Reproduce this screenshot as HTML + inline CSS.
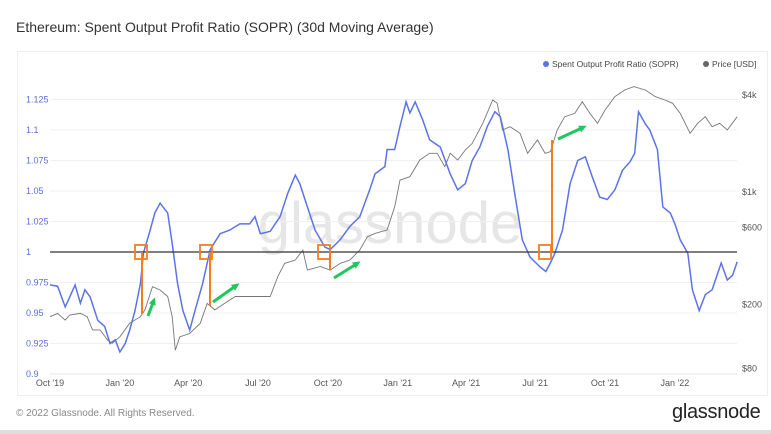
<!DOCTYPE html>
<html><head><meta charset="utf-8">
<style>
html,body{margin:0;padding:0;background:#fff;}
body{width:771px;height:434px;position:relative;overflow:hidden;font-family:"Liberation Sans",sans-serif;}
.t{position:absolute;white-space:nowrap;}
</style></head>
<body>
<div class="t" style="left:16px;top:19px;font-size:14px;color:#333;">Ethereum: Spent Output Profit Ratio (SOPR) (30d Moving Average)</div>
<div style="position:absolute;left:17px;top:51px;width:749px;height:343px;border:1px solid #eee;"></div>
<div class="t" style="left:16px;top:408px;font-size:10px;color:#888;">© 2022 Glassnode. All Rights Reserved.</div>
<div class="t" style="left:672px;top:401px;font-size:20px;color:#222;letter-spacing:-0.3px;">glassnode</div>
<div style="position:absolute;left:0;top:430px;width:771px;height:4px;background:#ddd;"></div>
<svg id="chart" width="771" height="434" style="position:absolute;left:0;top:0" xmlns="http://www.w3.org/2000/svg"></svg>
<script>
const soprDays=[0,10,20,26,33,40,46,53,63,72,79,86,92,99,105,112,119,123,132,138,145,155,161,168,175,184,191,201,211,224,237,250,263,270,277,290,303,313,323,329,339,349,362,369,382,395,408,421,428,441,444,454,461,469,474,481,491,500,514,527,537,547,556,566,576,586,593,603,612,622,632,645,653,659,665,675,685,695,705,714,724,734,744,754,764,770,775,784,790,800,807,817,823,830,840,846,855,863,872,884,892,899,905];
const soprValues=[0.973,0.972,0.955,0.963,0.973,0.958,0.969,0.963,0.944,0.939,0.925,0.928,0.918,0.925,0.936,0.952,0.974,0.999,1.018,1.032,1.040,1.032,1.007,0.974,0.952,0.936,0.952,0.974,1.002,1.015,1.018,1.023,1.023,1.029,1.015,1.017,1.029,1.048,1.063,1.056,1.037,1.018,1.004,1.002,1.010,1.021,1.029,1.051,1.064,1.070,1.084,1.084,1.103,1.123,1.114,1.123,1.108,1.092,1.086,1.064,1.051,1.056,1.075,1.086,1.103,1.115,1.111,1.084,1.048,1.010,0.996,0.988,0.984,0.991,0.999,1.018,1.056,1.075,1.078,1.062,1.045,1.043,1.051,1.067,1.074,1.081,1.115,1.105,1.100,1.084,1.037,1.032,1.023,1.010,0.999,0.969,0.952,0.965,0.969,0.991,0.977,0.981,0.992];
const priceDays=[0,10,20,26,40,49,56,66,76,82,92,105,119,125,135,145,155,161,165,171,184,198,207,217,230,244,257,277,290,300,309,323,333,339,356,369,382,395,408,418,428,444,454,461,474,487,500,510,520,527,537,547,556,570,583,589,596,606,619,629,642,652,659,668,678,691,701,711,721,731,744,757,769,784,797,810,820,830,843,853,863,872,882,892,905];
const priceValues=[168,176,160,172,176,168,139,139,120,115,126,153,168,185,258,246,224,168,104,126,132,153,203,185,203,224,224,224,224,298,360,378,436,327,344,327,360,378,436,527,553,580,810,1185,1244,1578,1738,1738,1435,1738,1578,1821,2003,2668,3724,3550,2425,2543,2312,1738,2103,1738,1778,2425,2933,3076,3637,3076,2668,3225,3908,4296,4508,4296,3908,3724,3550,3076,2312,2668,2933,2543,2668,2425,2933];
const leftTicks=[1.125,1.1,1.075,1.05,1.025,1,0.975,0.95,0.925,0.9];
const leftTickLabels=["1.125","1.1","1.075","1.05","1.025","1","0.975","0.95","0.925","0.9"];
const rightTicks=[4000,1000,600,200,80];
const rightTickLabels=["$4k","$1k","$600","$200","$80"];
const xTickDays=[0,92,182,274,366,458,548,639,731,823];
const xTickLabels=["Oct '19","Jan '20","Apr '20","Jul '20","Oct '20","Jan '21","Apr '21","Jul '21","Oct '21","Jan '22"];

const svg=document.getElementById('chart');
const NS='http://www.w3.org/2000/svg';
const X0=50,X1=737,Y0=99.5,Y1=374;
const xs=d=>X0+d*0.7593;
const yL=v=>252-(v-1)*1220;
const yR=p=>95+(Math.log10(4000)-Math.log10(p))*161;
function mk(tag,attrs){const e=document.createElementNS(NS,tag);for(const k in attrs)e.setAttribute(k,attrs[k]);svg.appendChild(e);return e;}

// watermark
let wm=mk('text',{x:390,y:243,'font-size':58,'text-anchor':'middle',fill:'#e6e6e6','font-family':'Liberation Sans, sans-serif'});


wm.textContent='glassnode';

leftTicks.forEach((v,i)=>{
  const g=mk('line',{x1:X0,x2:X1,y1:yL(v),y2:yL(v),stroke:'#f0f0f0','stroke-width':1});
  
  
  const t=mk('text',{x:26,y:yL(v)+3,'font-size':9,fill:'#5b6fd6','font-family':'Liberation Sans, sans-serif'});
  
  
  t.textContent=leftTickLabels[i];
});
rightTicks.forEach((p,i)=>{
  const t=mk('text',{x:742,y:yR(p)+3,'font-size':9,fill:'#555','font-family':'Liberation Sans, sans-serif'});
  
  
  t.textContent=rightTickLabels[i];
});
xTickDays.forEach((d,i)=>{
  const t=mk('text',{x:xs(d),y:386,'font-size':9,fill:'#555','text-anchor':'middle','font-family':'Liberation Sans, sans-serif'});
  
  
  t.textContent=xTickLabels[i];
});
let ax=mk('line',{x1:X0,x2:X1,y1:Y1,y2:Y1,stroke:'#e6e6e6'});



let pp=mk('polyline',{points:priceDays.map((d,i)=>xs(d).toFixed(1)+','+yR(priceValues[i]).toFixed(1)).join(' '),fill:'none',stroke:'#777','stroke-width':0.9});


let sp=mk('polyline',{points:soprDays.map((d,i)=>xs(d).toFixed(1)+','+yL(soprValues[i]).toFixed(1)).join(' '),fill:'none',stroke:'#5b73e8','stroke-width':1.5});



let bl=mk('line',{x1:X0,x2:X1,y1:yL(1),y2:yL(1),stroke:'#333','stroke-width':1.2});



// annotations
[[142,252,314],[210,252,306],[330,252,270],[552,252,140]].forEach(a=>{
  const l=mk('line',{x1:a[0],x2:a[0],y1:a[1],y2:a[2],stroke:'#f57c20','stroke-width':2});
  
  
});
[[141,252],[206,252],[324,252],[545,252]].forEach(a=>{
  const r=mk('rect',{x:a[0]-6,y:a[1]-7,width:12,height:14,fill:'none',stroke:'#f57c20','stroke-width':1.8});
  
  
});
[[148,316,154,300],[213,302,237,285],[334,278,358,263],[558,139,584,127]].forEach(a=>{
  const l=mk('line',{x1:a[0],y1:a[1],x2:a[2],y2:a[3],stroke:'#22c55e','stroke-width':3});
  
  
  const ang=Math.atan2(a[3]-a[1],a[2]-a[0]);
  const s=6,x=a[2],y=a[3];
  const pts=[[x+Math.cos(ang)*3,y+Math.sin(ang)*3],[x+Math.cos(ang+2.5)*s,y+Math.sin(ang+2.5)*s],[x+Math.cos(ang-2.5)*s,y+Math.sin(ang-2.5)*s]];
  const h=mk('polygon',{points:pts.map(p=>p.join(',')).join(' '),fill:'#22c55e'});
  
  
});

// legend
let d1=mk('circle',{cx:546,cy:64,r:3,fill:'#5b73e8'});


let t1=mk('text',{x:552,y:67,'font-size':8.5,fill:'#444','font-family':'Liberation Sans, sans-serif'});


t1.textContent='Spent Output Profit Ratio (SOPR)';
let d2=mk('circle',{cx:706,cy:64,r:3,fill:'#666'});


let t2=mk('text',{x:712,y:67,'font-size':8.5,fill:'#444','font-family':'Liberation Sans, sans-serif'});


t2.textContent='Price [USD]';
</script>
</body></html>
